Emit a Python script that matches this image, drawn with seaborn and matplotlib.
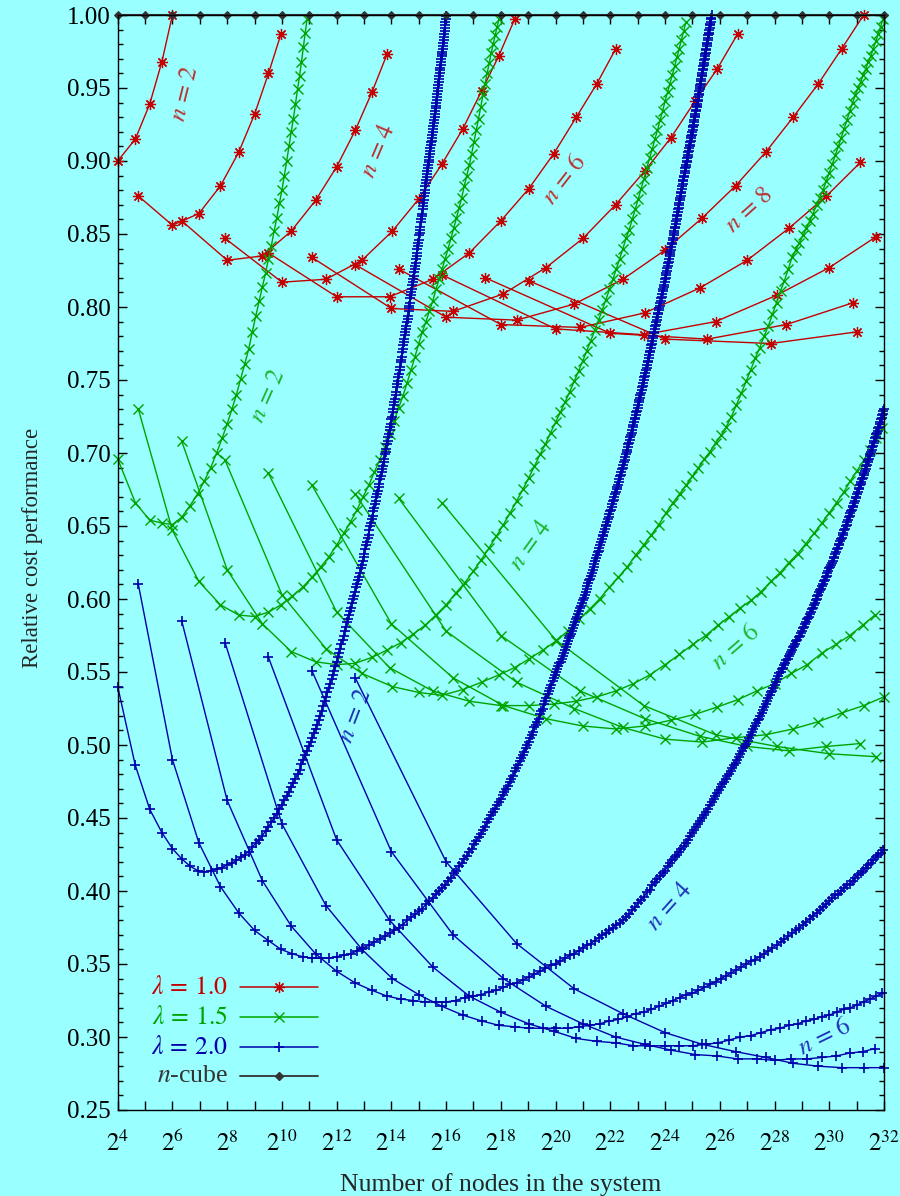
import numpy as np
import matplotlib
matplotlib.use("Agg")
import matplotlib.pyplot as plt
import seaborn as sns
from matplotlib.ticker import FixedLocator, FixedFormatter, NullFormatter, MultipleLocator, FormatStrFormatter
from matplotlib.lines import Line2D

# ---------------- data (y values in thousandths; k = radix, N = k**n) ----------------
# lambda = 1.0 (red), first k of each curve
red_k0 = {2: 4, 3: 3, 4: 3, 5: 3, 6: 3, 7: 3, 8: 3, 9: 3, 10: 3, 11: 3, 12: 3}
red_n2 = [900, 915, 939, 968, 1000]
red_n3 = [876, 856, 864, 883, 906, 932, 960, 987]
red_n4 = [859, 832, 835, 852, 873, 896, 921, 947, 973]
red_n5 = [847, 817, 819, 832, 852, 874, 898, 922, 948, 972, 997]
red_n6 = [837, 807, 807, 819, 837, 859, 881, 905, 930, 953, 977]
red_n7 = [834, 799, 797, 809, 827, 847, 870, 893, 916, 941, 963, 987]
red_n8 = [829, 793, 791, 802, 819, 839, 861, 883, 906, 930, 953, 977, 1000]
red_n9 = [826, 788, 786, 796, 813, 832, 854, 876, 899]
red_n10 = [822, 785, 781, 790, 808, 827, 848]
red_n11 = [820, 782, 778, 788, 803]
red_n12 = [818, 778, 775, 783]

# lambda = 1.5 (green)
green_k0 = {2: 4, 3: 3, 4: 3, 5: 3, 6: 3, 7: 3, 8: 3, 9: 3, 10: 3}
green_n2 = [696, 666, 654, 652, 651, 656, 664, 672, 681, 690, 700, 710, 720, 730, 740, 751, 761, 771,
            783, 794, 804, 814, 823, 833, 842, 852, 861, 871, 880, 890, 900, 910, 920, 929, 939, 949,
            958, 968, 978, 988, 997]
green_n3 = [730, 647, 612, 596, 589, 588, 591, 596, 602, 608, 615, 622, 629, 637, 645, 653, 661, 670,
            678, 687, 695, 704, 713, 722, 731, 739, 748, 757, 766, 775, 783, 790, 797, 804, 812, 819,
            826, 833, 840, 847, 854, 861, 868, 875, 883, 890, 897, 905, 913, 921, 929, 937, 945, 953,
            960, 967, 974, 980, 986, 992, 997]
green_n4 = [708, 620, 583, 564, 557, 555, 556, 560, 565, 570, 576, 582, 589, 596, 604, 611, 619, 627,
            635, 643, 651, 659, 667, 675, 683, 691, 699, 706, 714, 721, 728, 735, 742, 749, 756, 763,
            770, 777, 784, 791, 798, 805, 812, 819, 826, 833, 840, 847, 853, 860, 867, 874, 881, 888,
            895, 902, 908, 915, 921, 928, 934, 941, 947, 953, 959, 965, 971, 977, 983, 989, 995]
green_n5 = [695, 603, 566, 549, 540, 536, 534, 538, 543, 548, 553, 559, 565, 571, 578, 586, 593, 600,
            608, 615, 622, 630, 637, 644, 651, 659, 666, 672, 678, 684, 690, 696, 701, 707, 712, 718,
            725, 733, 741, 749, 757, 765, 772, 780, 787, 795, 803, 811, 818, 826, 834, 839, 844, 849,
            854, 859, 864, 870, 875, 880, 886, 892, 898, 904, 910, 916, 922, 928, 934, 940, 945, 950,
            954, 959, 963, 968, 972, 977, 982, 987, 992, 997]
green_n6 = [686, 591, 553, 537, 530, 527, 527, 528, 530, 533, 537, 542, 548, 555, 562, 569, 575, 582,
            588, 594, 599, 605, 612, 618, 625, 631, 638, 645, 652, 659, 666, 673, 681, 688, 695, 702,
            710, 717]
green_n7 = [678, 583, 546, 527, 518, 513, 511, 513, 517, 521, 526, 531, 537, 542, 549, 555, 563, 569,
            575, 582, 589]
green_n8 = [672, 578, 543, 525, 512, 504, 502, 505, 507, 511, 516, 522, 527, 533]
green_n9 = [669, 575, 537, 518, 506, 499, 496, 499, 501]
green_n10 = [666, 572, 527, 507, 499, 494, 492]

# lambda = 2.0 (blue)
blue_k0 = {2: 4, 3: 3, 4: 3, 5: 3, 6: 3, 7: 3, 8: 3}
blue_n2 = [540, 486, 456, 440, 429, 422, 417, 414, 413, 414,
           415, 416, 418, 419, 421, 423, 425, 427, 430, 433, 435, 438, 441, 444, 447, 450, 453,
           456, 459, 462, 465, 468, 471, 474, 477, 480, 483, 487, 490, 493, 496, 499, 502, 505, 508,
           511, 514, 517, 520, 523, 527, 530,
           533, 536, 539, 542, 545, 548, 551, 554, 557, 560, 563, 566, 569, 572, 575, 578, 581,
           584, 586, 589, 592, 594, 597, 600, 602, 605, 608, 610, 613, 615, 618, 621, 623, 626, 629,
           631, 634, 637, 639, 642, 644, 647, 650, 652, 655,
           657, 660, 662, 665, 667, 670, 672, 674, 677, 679, 682, 684, 687, 689, 691, 694, 696, 699,
           701, 703, 706, 708, 711, 713, 716, 718, 720, 723, 725, 728, 730, 733, 735, 737, 740, 742,
           745, 747, 749, 752, 754, 757, 759, 762, 764, 766, 769, 771, 774, 776,
           778, 781, 783, 785, 787, 790, 792, 794, 797, 799, 801, 803, 806, 808, 810, 812, 815, 817,
           819, 821, 824, 826, 828, 830, 833, 835, 837, 840, 842, 844, 846, 849, 851, 853, 855, 858,
           860, 862, 864, 867, 869, 871, 873, 876, 878, 880, 883, 885, 887, 889,
           891, 893, 895, 897, 899, 901, 903, 905, 907, 909, 911, 913, 914, 916, 918, 920, 922, 924,
           926, 928, 930, 932, 934, 936, 938, 940, 942, 944, 946, 948, 950, 952, 954, 956, 958, 960,
           962, 964, 966, 968, 970, 972, 973, 975, 977, 979, 981, 983, 985, 987, 989, 991, 993, 995,
           997, 999]
blue_n3 = [610, 490, 433, 403, 385, 373, 366, 360, 357, 355, 354,
           354, 354, 355, 356, 357, 359, 361, 363, 365, 367, 369, 371, 373, 375, 377, 380, 382, 384,
           386, 388, 391, 393, 395, 398, 400, 402, 404,
           407, 409, 412, 414, 417, 419, 422, 424, 427, 429, 432, 434, 437, 439, 442, 444, 447, 449,
           452, 454,
           456, 459, 461, 463, 466, 468, 470, 472, 475, 477, 479, 482, 484, 486, 489, 491, 493, 495,
           498, 500, 502, 505, 507, 509, 512, 514, 516, 518, 521, 523, 525, 528, 530, 532, 535, 537,
           539, 541, 544, 546,
           548, 550, 552, 554, 556, 557, 559, 561, 563, 565, 567, 569, 571, 573, 575, 576, 578, 580,
           582, 584, 586, 588, 590, 592, 594, 595, 597, 599, 601, 603, 605, 607, 609, 611, 613, 614,
           616, 618, 620, 622, 624, 626, 628, 630, 632, 633, 635, 637, 639, 641,
           643, 644, 646, 648, 650, 651, 653, 655, 656, 658, 660, 661, 663, 665, 667, 668, 670, 672,
           673, 675, 677, 678, 680, 682, 684, 685, 687, 689, 690, 692, 694, 695, 697, 699, 701, 702,
           704, 706, 707, 709, 711, 712, 714, 716, 718, 719, 721, 723, 724, 726, 728, 729, 731, 733,
           735, 736, 738, 740, 741, 743, 745, 746, 748, 750, 752, 753, 755, 757, 758, 760, 762, 763,
           765, 767, 769, 770, 772, 774, 775, 777,
           779, 780, 782, 783, 785, 787, 788, 790, 791, 793, 795, 796, 798, 799, 801, 803, 804, 806,
           807, 809, 811, 812, 814, 815, 817, 819, 820, 822, 823, 825, 827, 828, 830, 831, 833, 835,
           836, 838, 839, 841, 843, 844, 846, 847, 849, 851, 852, 854, 855, 857, 859, 860, 862, 863,
           865, 867, 868, 870, 871, 873, 875, 876, 878, 879, 881, 883, 884, 886, 887, 889,
           890, 892, 893, 895, 896, 897, 899, 900, 902, 903, 904, 906, 907, 909, 910, 911, 913, 914,
           916, 917, 918, 920, 921, 923, 924, 925, 927, 928, 930, 931, 932, 934, 935, 937, 938, 939,
           941, 942, 944, 945, 946, 948, 949, 951, 952, 953, 955, 956, 958, 959, 960, 962, 963, 965,
           966, 967, 969, 970, 972, 973, 974, 976, 977, 979, 980, 981, 983, 984, 986, 987, 988, 990,
           991, 993, 994, 995, 997, 998, 1000]
blue_n4 = [585, 462, 407, 376, 357, 345, 337, 332, 328, 326, 325, 324, 324, 324, 325, 327, 328, 329,
           331, 332, 334, 336, 337, 339, 341, 343, 345, 347,
           349, 350, 352, 354, 356, 357, 359, 361, 363, 364, 366, 368, 370, 371, 373, 375, 377, 378,
           380, 382,
           384, 387, 389, 392, 394, 396, 399, 401, 404, 406,
           408, 410, 412, 414, 417, 419, 421, 423, 425, 427, 429, 431, 433, 435, 438, 440, 442, 444,
           446, 448, 450, 452, 454, 456, 459, 461, 463, 465, 467, 469,
           471, 473, 475, 477, 479, 480, 482, 484, 486, 488, 490, 492, 494, 496, 498, 499, 501, 503,
           505, 507, 509, 511, 513, 515, 517, 518, 520, 522, 524, 526, 528, 530, 532, 534, 536, 537,
           539, 541, 543, 545, 547, 549,
           550, 552, 553, 555, 556, 558, 559, 561, 562, 564, 565, 567, 568, 569, 571, 572, 574, 575,
           577, 578, 580, 581, 583, 584, 586, 587, 588, 590, 591, 593, 594, 596, 597, 599, 600, 602,
           603, 605, 606, 607, 609, 610, 612, 613, 615, 616, 618, 619, 621, 622, 623, 625, 626, 628,
           629, 631, 632, 634, 635, 637, 638, 640, 641, 642, 644, 645, 647, 648, 650, 651, 653, 654,
           656, 657, 659, 660, 661, 663, 664, 666, 667, 669, 670, 672, 673, 675, 676, 678, 679, 680,
           682, 683, 685, 686, 688, 689, 691, 692, 694, 695, 696, 698, 699, 701, 702, 704, 705, 707,
           708, 710, 711, 713, 714, 715, 717, 718, 720, 721, 723, 724, 726, 727, 729, 730]
blue_n5 = [570, 446, 390, 360, 340, 329, 321, 315, 311, 308, 307, 306, 306, 306, 306, 307, 308, 309,
           311, 312, 314, 316, 317, 319, 321, 323, 325, 327, 329, 330, 332, 334, 336, 338, 340, 342,
           344, 346, 348, 350, 352, 353, 355, 357, 359, 361, 363, 365, 367, 369, 371, 373, 375, 377,
           379, 381, 383, 385, 387, 389, 391, 393, 395, 397, 398, 400, 402, 404, 405, 407, 409, 411,
           412, 414, 416, 418, 419, 421, 423, 425, 426, 428]
blue_n6 = [560, 435, 380, 348, 328, 317, 309, 304, 299, 297, 296, 294, 294, 294, 294, 294, 295, 296,
           298, 300, 301, 303, 305, 306, 308, 309, 311, 312, 314, 315, 317, 319, 320, 322, 324, 326,
           328, 330]
blue_n7 = [551, 427, 370, 340, 321, 309, 300, 295, 291, 288, 287, 285, 285, 284, 285, 285, 286, 287,
           289, 290, 292]
blue_n8 = [546, 420, 364, 333, 316, 303, 295, 290, 286, 282, 280, 279, 279, 279]

# n-cube reference (exponent of 2, relative cost performance)
ncube_exp = [4, 5, 6, 7, 8, 9, 10, 11, 12, 13, 14, 15, 16, 17, 18, 19, 20, 21, 22, 23, 24, 25, 26,
             27, 28, 29, 30, 31, 32]
ncube_y = [1.0, 1.0, 1.0, 1.0, 1.0, 1.0, 1.0, 1.0, 1.0, 1.0, 1.0, 1.0, 1.0, 1.0, 1.0, 1.0, 1.0, 1.0,
           1.0, 1.0, 1.0, 1.0, 1.0, 1.0, 1.0, 1.0, 1.0, 1.0, 1.0]

legend_labels = [r'$\lambda\,=\,1.0$', r'$\lambda\,=\,1.5$', r'$\lambda\,=\,2.0$', r'$n$-cube']
xtick_exps = [4, 6, 8, 10, 12, 14, 16, 18, 20, 22, 24, 26, 28, 30, 32]

# curve labels: (text, log2 N, y, rotation, family)
curve_labels = [
    (r'$n\,=\,2$', 6.45, 0.946, 76, 'red'),
    (r'$n\,=\,4$', 13.55, 0.907, 67, 'red'),
    (r'$n\,=\,6$', 20.35, 0.887, 52, 'red'),
    (r'$n\,=\,8$', 27.1, 0.866, 42, 'red'),
    (r'$n\,=\,2$', 9.5, 0.739, 66, 'green'),
    (r'$n\,=\,4$', 19.12, 0.637, 54, 'green'),
    (r'$n\,=\,6$', 26.6, 0.567, 41, 'green'),
    (r'$n\,=\,2$', 12.7, 0.520, 69, 'blue'),
    (r'$n\,=\,4$', 24.17, 0.389, 48, 'blue'),
    (r'$n\,=\,6$', 29.83, 0.300, 26, 'blue'),
]

# ---------------- style ----------------
sns.set_style("ticks")
plt.rcParams['font.family'] = ['Liberation Serif', 'DejaVu Serif']
plt.rcParams['mathtext.fontset'] = 'stix'
plt.rcParams['axes.edgecolor'] = 'black'

BG = '#99ffff'
COL = {'red': '#c40000', 'green': '#00a400', 'blue': '#0000aa', 'black': '#333333'}
MARK = {'red': (8, 2, 0), 'green': 'x', 'blue': '+', 'black': 'D'}
MSIZE = {'red': 8.0, 'green': 7.5, 'blue': 7.5, 'black': 4.5}
MEW = {'red': 0.9, 'green': 1.0, 'blue': 1.2, 'black': 1.0}

fig = plt.figure(figsize=(9, 11.96), dpi=100, facecolor=BG)
ax = fig.add_axes([117.7 / 900, 1 - 1110 / 1196, (884 - 117.7) / 900, (1110 - 15) / 1196])
ax.set_facecolor(BG)

families = [
    ('red', red_k0, {2: red_n2, 3: red_n3, 4: red_n4, 5: red_n5, 6: red_n6, 7: red_n7, 8: red_n8,
                     9: red_n9, 10: red_n10, 11: red_n11, 12: red_n12}),
    ('green', green_k0, {2: green_n2, 3: green_n3, 4: green_n4, 5: green_n5, 6: green_n6,
                         7: green_n7, 8: green_n8, 9: green_n9, 10: green_n10}),
    ('blue', blue_k0, {2: blue_n2, 3: blue_n3, 4: blue_n4, 5: blue_n5, 6: blue_n6, 7: blue_n7,
                       8: blue_n8}),
]
for fam, k0s, curves in families:
    for n, ys in curves.items():
        ks = np.arange(k0s[n], k0s[n] + len(ys), dtype=float)
        N = ks ** n
        yv = np.array(ys, dtype=float) / 1000.0
        sns.lineplot(x=N, y=yv, ax=ax, color=COL[fam], marker=MARK[fam], markersize=MSIZE[fam],
                     markeredgecolor=COL[fam], markeredgewidth=MEW[fam], linewidth=1.0,
                     sort=False, estimator=None, legend=False, clip_on=False)

sns.lineplot(x=2.0 ** np.array(ncube_exp), y=ncube_y, ax=ax, color=COL['black'], marker='D',
             markersize=MSIZE['black'], markeredgecolor=COL['black'], markerfacecolor=COL['black'],
             linewidth=1.5, sort=False, estimator=None, legend=False, clip_on=False)

# ---------------- axes ----------------
ax.set_xscale('log', base=2)
ax.set_xlim(2 ** 4, 2 ** 32)
ax.set_ylim(0.25, 1.0)
ax.xaxis.set_major_locator(FixedLocator([2.0 ** e for e in xtick_exps]))
ax.xaxis.set_major_formatter(FixedFormatter([r'$2^{%d}$' % e for e in xtick_exps]))
ax.xaxis.set_minor_locator(FixedLocator([2.0 ** e for e in range(5, 33, 2)]))
ax.xaxis.set_minor_formatter(NullFormatter())
ax.yaxis.set_major_locator(MultipleLocator(0.05))
ax.yaxis.set_minor_locator(MultipleLocator(0.01))
ax.yaxis.set_major_formatter(FormatStrFormatter('%.2f'))
ax.tick_params(which='both', direction='in', top=True, right=True, width=1.0, colors='black')
ax.tick_params(which='major', length=6.5)
ax.tick_params(axis='x', which='minor', length=6.5)
ax.tick_params(axis='y', which='minor', length=3.5)
ax.tick_params(axis='x', which='major', labelsize=18, pad=15)
ax.tick_params(axis='y', which='major', labelsize=18, pad=5)
for s in ax.spines.values():
    s.set_linewidth(1.0)
    s.set_color('black')

ax.set_xlabel('Number of nodes in the system', fontsize=18.5, labelpad=12)
ax.set_ylabel('Relative cost performance', fontsize=16.5)
ax.yaxis.set_label_coords(-0.098, 0.513)

for txt, L, yv, rot, fam in curve_labels:
    ax.text(2.0 ** L, yv, txt, color=COL[fam], fontsize=18, rotation=rot, rotation_mode='anchor',
            ha='center', va='center', alpha=0.8)

# legend (text right-aligned, sample line with centred marker), in axes fraction
leg_rows_y = [0.1123, 0.0849, 0.0575, 0.0311]
leg_text_x = 0.1439
leg_line_x = (0.1596, 0.2614)
for lab, fam, yy in zip(legend_labels, ['red', 'green', 'blue', 'black'], leg_rows_y):
    ax.text(leg_text_x, yy, lab, transform=ax.transAxes, ha='right', va='center',
            fontsize=18.5, color=COL[fam])
    ax.add_line(Line2D(list(leg_line_x), [yy, yy], transform=ax.transAxes, color=COL[fam],
                       linewidth=1.1 if fam != 'black' else 1.3, clip_on=False))
    ax.add_line(Line2D([sum(leg_line_x) / 2], [yy], transform=ax.transAxes, color=COL[fam],
                       marker=MARK[fam], markersize=MSIZE[fam], markeredgecolor=COL[fam],
                       markerfacecolor=COL[fam], markeredgewidth=MEW[fam], linestyle='none',
                       clip_on=False))

fig.savefig('out.png', dpi=100, facecolor=BG)
